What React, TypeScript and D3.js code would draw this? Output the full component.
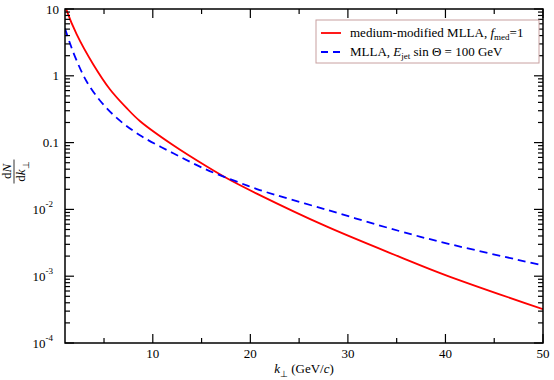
import React from 'react';
import * as d3 from 'd3';

// readings (k_perp in GeV/c, dN/dk_perp)
const mediumK = [1.0, 1.15, 2.2, 3.9, 5.6, 7.3, 8.7, 12.1, 15.5, 17.55, 20.6, 27.8, 35.3, 40, 50];
const mediumV = [11.5, 9.7, 4.17, 1.48, 0.63, 0.331, 0.209, 0.0912, 0.0442, 0.0295, 0.0174, 0.00556, 0.00195, 0.00104, 0.00032];
const vacuumK = [1.0, 1.5, 2.2, 3.22, 4.58, 6.3, 8.68, 12.1, 15.5, 18.9, 20.96, 27.8, 35.3, 40, 50];
const vacuumV = [5.1, 3.09, 1.68, 0.822, 0.427, 0.234, 0.129, 0.0692, 0.0394, 0.0251, 0.0195, 0.00989, 0.00473, 0.00313, 0.00145];

const xMajor = [10, 20, 30, 40, 50];
const xMinor = [5, 15, 25, 35, 45];
const yMajor = [1e-4, 1e-3, 1e-2, 0.1, 1, 10];
const yLabels: [string, string][] = [['10', '-4'], ['10', '-3'], ['10', '-2'], ['0.1', ''], ['1', ''], ['10', '']];

const W = 554, H = 380;
const margin = { top: 9, right: 11, bottom: 37, left: 65 };
const iw = W - margin.left - margin.right;
const ih = H - margin.top - margin.bottom;
const font = '"Liberation Serif", "Times New Roman", serif';

export default function App() {
  const x = d3.scaleLinear().domain([1, 50]).range([0, iw]);
  const y = d3.scaleLog().domain([1e-4, 10]).range([ih, 0]);

  const yMinor: number[] = [];
  yMajor.slice(0, -1).forEach(d => { for (let m = 2; m <= 9; m++) yMinor.push(d * m); });

  const line = d3.line<[number, number]>().x(d => x(d[0])).y(d => y(d[1])).curve(d3.curveCatmullRom.alpha(0.5));
  const medium = mediumK.map((k, i) => [k, mediumV[i]] as [number, number]);
  const vacuum = vacuumK.map((k, i) => [k, vacuumV[i]] as [number, number]);

  const tick = { stroke: '#000', strokeWidth: 1.2 };

  return (
    <svg width={W} height={H} style={{ position: 'absolute', left: 0, top: 0, background: '#fff' }} fontFamily={font}>
      <defs>
        <clipPath id="plot"><rect width={iw} height={ih} /></clipPath>
      </defs>
      <g transform={`translate(${margin.left},${margin.top})`}>
        <g clipPath="url(#plot)">
          <path d={line(medium) || ''} fill="none" stroke="#ff0000" strokeWidth={1.8} />
          <path d={line(vacuum) || ''} fill="none" stroke="#0000ff" strokeWidth={1.8} strokeDasharray="8,5" />
        </g>

        {/* x ticks, bottom and top, pointing inward */}
        {xMajor.concat(xMinor).map(v => {
          const len = xMajor.includes(v) ? 9 : 5;
          return (
            <g key={'x' + v}>
              <line x1={x(v)} x2={x(v)} y1={ih} y2={ih - len} {...tick} />
              <line x1={x(v)} x2={x(v)} y1={0} y2={len} {...tick} />
            </g>
          );
        })}
        {xMajor.map(v => (
          <text key={'xl' + v} x={x(v)} y={ih + 15} textAnchor="middle" fontSize={13}>{v}</text>
        ))}

        {/* y ticks, left and right */}
        {yMajor.concat(yMinor).map(v => {
          const len = yMajor.includes(v) ? 9 : 5;
          return (
            <g key={'y' + v}>
              <line x1={0} x2={len} y1={y(v)} y2={y(v)} {...tick} />
              <line x1={iw} x2={iw - len} y1={y(v)} y2={y(v)} {...tick} />
            </g>
          );
        })}
        {yMajor.map((v, i) => (
          <text key={'yl' + v} x={yLabels[i][1] ? -12 : -6} y={y(v)} dy="0.35em" textAnchor="end" fontSize={13}>
            {yLabels[i][0]}
            {yLabels[i][1] && <tspan fontSize={9} dy="-0.75em">{yLabels[i][1]}</tspan>}
          </text>
        ))}

        <rect width={iw} height={ih} fill="none" stroke="#000" strokeWidth={1.5} />

        {/* axis titles */}
        <text x={iw / 2} y={ih + 30} textAnchor="middle" fontSize={13}>
          <tspan fontStyle="italic">k</tspan>
          <tspan fontSize={9} dy={4}>⊥</tspan>
          <tspan dy={-4}> (GeV/</tspan>
          <tspan fontStyle="italic">c</tspan>
          <tspan>)</tspan>
        </text>
      </g>

      <g transform={`translate(14,${margin.top + y(0.03) - 6})`}>
        <g transform="rotate(-90)">
          <text x={0} y={-3} textAnchor="middle" fontSize={13}>
            d<tspan fontStyle="italic">N</tspan>
          </text>
          <line x1={-12} x2={12} y1={0} y2={0} stroke="#000" strokeWidth={0.8} />
          <text x={0} y={11} textAnchor="middle" fontSize={13}>
            d<tspan fontStyle="italic">k</tspan>
            <tspan fontSize={9} dy={4}>⊥</tspan>
          </text>
        </g>
      </g>

      {/* legend */}
      <g transform="translate(316,20)">
        <rect width={223} height={43} fill="#fff" stroke="#c8a0a0" strokeWidth={1} />
        <line x1={5} x2={25} y1={13} y2={13} stroke="#ff0000" strokeWidth={1.8} />
        <line x1={5} x2={25} y1={32} y2={32} stroke="#0000ff" strokeWidth={1.8} strokeDasharray="7,5" />
        <text x={34} y={17} fontSize={13}>
          medium-modified MLLA, <tspan fontStyle="italic">f</tspan>
          <tspan fontSize={9} dy={3}>med</tspan>
          <tspan dy={-3}>=1</tspan>
        </text>
        <text x={34} y={36} fontSize={13}>
          MLLA, <tspan fontStyle="italic">E</tspan>
          <tspan fontSize={9} dy={3}>jet</tspan>
          <tspan dy={-3}> sin Θ = 100 GeV</tspan>
        </text>
      </g>
    </svg>
  );
}
